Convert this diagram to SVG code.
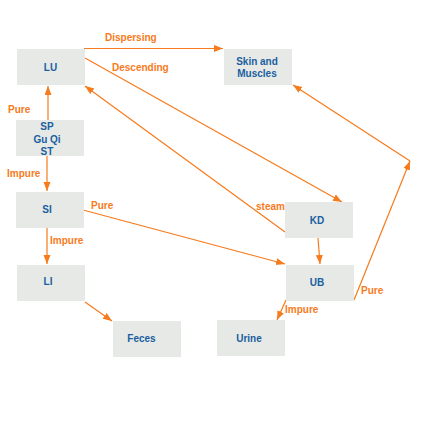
<svg xmlns="http://www.w3.org/2000/svg" width="432" height="432" viewBox="0 0 432 432">
<style>
.box{fill:#e6e9e6;}
.nt{font-family:"Liberation Sans",Arial,sans-serif;font-size:10px;font-weight:bold;fill:#1a5fa0;text-anchor:middle;}
.lb{font-family:"Liberation Sans",Arial,sans-serif;font-size:10px;font-weight:bold;fill:#f77a1c;}
.ed{stroke:#f77a1c;stroke-width:1.2;fill:none;}
</style>
<defs>
<marker id="ah" markerUnits="userSpaceOnUse" markerWidth="10" markerHeight="8" refX="9" refY="3.5" orient="auto">
<path d="M0,0 L9,3.5 L0,7 Z" fill="#f77a1c"/>
</marker>
</defs>
<rect width="432" height="432" fill="#ffffff"/>
<g id="connectors">
<line class="ed" x1="84" y1="48.5" x2="223" y2="48.5" marker-end="url(#ah)"/>
<line class="ed" x1="85" y1="58" x2="342" y2="202" marker-end="url(#ah)"/>
<line class="ed" x1="285" y1="232" x2="85" y2="86" marker-end="url(#ah)"/>
<line class="ed" x1="48" y1="120" x2="48" y2="86" marker-end="url(#ah)"/>
<line class="ed" x1="47" y1="156" x2="47" y2="191" marker-end="url(#ah)"/>
<line class="ed" x1="83" y1="210" x2="285" y2="264" marker-end="url(#ah)"/>
<line class="ed" x1="47" y1="228" x2="47" y2="264" marker-end="url(#ah)"/>
<line class="ed" x1="85" y1="302" x2="112" y2="321" marker-end="url(#ah)"/>
<line class="ed" x1="318" y1="238" x2="320" y2="264" marker-end="url(#ah)"/>
<line class="ed" x1="286" y1="300" x2="277" y2="320" marker-end="url(#ah)"/>
<line class="ed" x1="354" y1="300" x2="410" y2="161" marker-end="url(#ah)"/>
<line class="ed" x1="410" y1="161" x2="293" y2="85" marker-end="url(#ah)"/>
<text class="lb" x="105" y="41">Dispersing</text>
<text class="lb" x="112" y="71">Descending</text>
<text class="lb" x="256" y="210">steam</text>
<text class="lb" x="8" y="113">Pure</text>
<text class="lb" x="7" y="177">Impure</text>
<text class="lb" x="91" y="209">Pure</text>
<text class="lb" x="50" y="244">Impure</text>
<text class="lb" x="361" y="294">Pure</text>
<text class="lb" x="285" y="313">Impure</text>
</g>
<g id="LU"><rect class="box" x="17" y="49" width="68" height="36"/><text class="nt" x="50.5" y="71">LU</text></g>
<g id="Skin"><rect class="box" x="224" y="49" width="68" height="36"/><text class="nt" x="257" y="65">Skin and</text><text class="nt" x="257" y="77">Muscles</text></g>
<g id="SP"><rect class="box" x="16" y="120" width="68" height="36"/><text class="nt" x="47" y="130">SP</text><text class="nt" x="47" y="142.5">Gu Qi</text><text class="nt" x="47" y="155">ST</text></g>
<g id="SI"><rect class="box" x="16" y="192" width="68" height="36"/><text class="nt" x="47" y="213">SI</text></g>
<g id="LI"><rect class="box" x="17" y="265" width="68" height="36"/><text class="nt" x="48" y="285">LI</text></g>
<g id="Feces"><rect class="box" x="113" y="321" width="68" height="36"/><text class="nt" x="141.5" y="342">Feces</text></g>
<g id="Urine"><rect class="box" x="217" y="320" width="68" height="36"/><text class="nt" x="249" y="342">Urine</text></g>
<g id="KD"><rect class="box" x="285" y="202" width="68" height="36"/><text class="nt" x="317" y="224">KD</text></g>
<g id="UB"><rect class="box" x="286" y="265" width="68" height="36"/><text class="nt" x="317" y="286">UB</text></g>
</svg>
